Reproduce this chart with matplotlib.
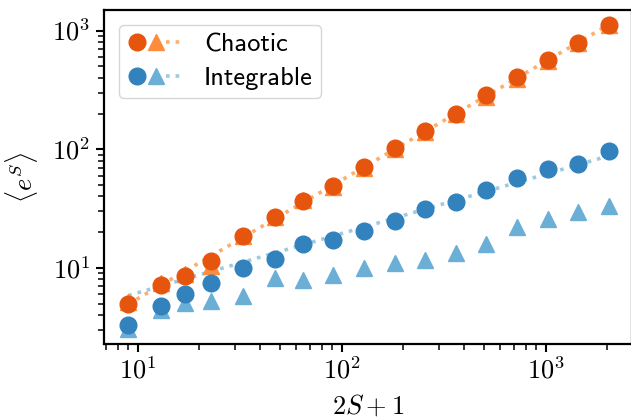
import math
import matplotlib
matplotlib.use("Agg")
import matplotlib.pyplot as plt
from matplotlib import ticker
from matplotlib.legend_handler import HandlerTuple

plt.rcParams['mathtext.fontset'] = 'cm'

# data
x = [9, 13, 17, 23, 33, 47, 65, 91, 129, 183, 257, 363, 513, 725, 1025, 1449, 2049]
chaotic_circ = [4.98, 7.23, 8.61, 11.5, 18.4, 27.0, 36.9, 49.3, 70.5, 102, 142.6, 198, 285, 409, 565, 787, 1114]
chaotic_tri = [5.2, 7.5, 8.8, 10.4, 18.4, 27.0, 37.5, 48.5, 69.5, 100, 139, 197, 278, 395, 560, 785, 1110]
chaotic_fit = [4.95, 7.15, 9.35, 12.65, 18.15, 25.9, 35.8, 50.0, 71.0, 100.7, 141.4, 199.7, 282, 399, 564, 797, 1127]
integ_circ = [3.27, 4.79, 6.0, 7.51, 10.06, 12.0, 15.9, 17.2, 20.5, 25.0, 31.4, 35.7, 45.4, 57.0, 68.2, 75.6, 96.2]
integ_tri = [3.05, 4.43, 5.1, 5.24, 5.84, 8.24, 7.98, 8.73, 10.06, 10.9, 11.6, 13.3, 15.8, 22.2, 25.9, 29.8, 33.0]
integ_fit = [5.85, 7.03, 8.04, 9.35, 11.2, 13.37, 15.7, 18.6, 22.1, 26.4, 31.3, 37.2, 44.2, 52.5, 62.4, 74.2, 88.3]
labels = ["Chaotic", "Integrable"]

c_or = ["#e6550d", "#fd8d3c", "#fdae6b"]
c_bl = ["#3182bd", "#6baed6", "#9ecae1"]

W, H = 631, 418
fig = plt.figure(figsize=(W / 100, H / 100), dpi=100)
left, right, top, bottom = 104, 632, 10, 344.3
ax = fig.add_axes([left / W, (H - bottom) / H, (right - left) / W, (bottom - top) / H])

ms = 12
handles = []
for circ, tri, fit, cols in [(chaotic_circ, chaotic_tri, chaotic_fit, c_or),
                             (integ_circ, integ_tri, integ_fit, c_bl)]:
    l, = ax.plot(x, fit, ':', color=cols[2], lw=2.6, zorder=1)
    t, = ax.plot(x, tri, '^', color=cols[1], ms=ms, ls='none', zorder=2)
    c, = ax.plot(x, circ, 'o', color=cols[0], ms=ms, ls='none', zorder=3)
    handles.append((c, t, l))

ax.set_xscale('log')
ax.set_yscale('log')
ax.set_xlim(6.84, 2652)
ax.set_ylim(2.27, 1493)

fmt = ticker.FuncFormatter(lambda v, p: r'$10^{%d}$' % round(math.log10(v)))
for a in (ax.xaxis, ax.yaxis):
    a.set_major_locator(ticker.LogLocator(base=10, numticks=10))
    a.set_major_formatter(fmt)
    a.set_minor_locator(ticker.LogLocator(base=10, subs=range(2, 10), numticks=20))
    a.set_minor_formatter(ticker.NullFormatter())

ax.tick_params(which='major', length=6, width=1.5, labelsize=19, pad=4)
ax.tick_params(which='minor', length=4, width=1.1)
for s in ax.spines.values():
    s.set_linewidth(1.6)

ax.set_xlabel(r'$2S+1$', fontsize=19, labelpad=6)
ax.set_ylabel(r'$\langle e^S\rangle$', fontsize=19, labelpad=9)

leg = ax.legend(handles, labels, handler_map={tuple: HandlerTuple(ndivide=None, pad=0)},
                loc='upper left', handlelength=2.2, handletextpad=0.72,
                prop={'family': 'cmss10', 'size': 19}, borderaxespad=0.55,
                borderpad=0.32, labelspacing=0.38, fancybox=True, framealpha=0.8,
                edgecolor='#cccccc')

fig.savefig('out.png', dpi=100)
